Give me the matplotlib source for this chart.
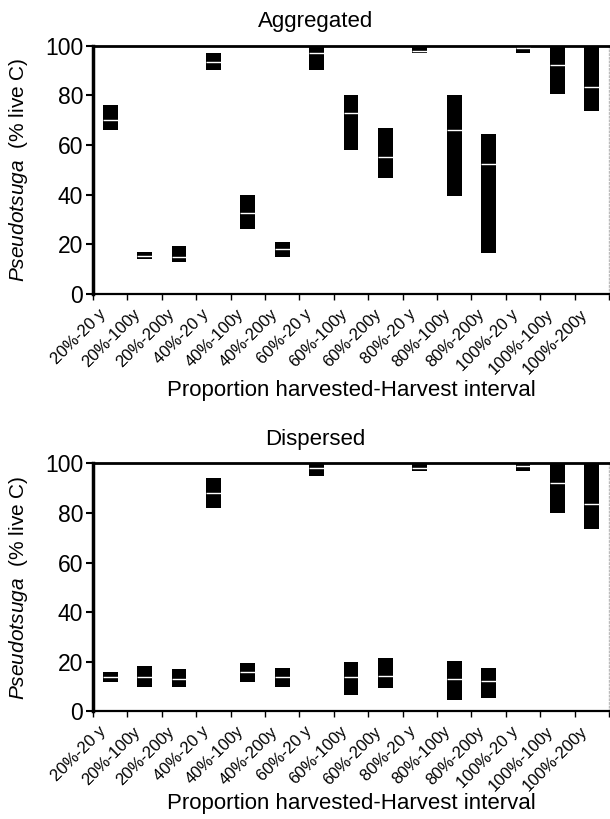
import numpy as np
import matplotlib.pyplot as plt
from matplotlib.transforms import ScaledTranslation

plt.rcParams['font.family'] = ['Liberation Sans', 'DejaVu Sans']
plt.rcParams['mathtext.fontset'] = 'custom'
plt.rcParams['mathtext.it'] = 'Liberation Sans:italic'
plt.rcParams['mathtext.rm'] = 'Liberation Sans'

# treatments: proportion harvested - harvest interval
labels = ['20%-20 y', '20%-100y', '20%-200y',
          '40%-20 y', '40%-100y', '40%-200y',
          '60%-20 y', '60%-100y', '60%-200y',
          '80%-20 y', '80%-100y', '80%-200y',
          '100%-20 y', '100%-100y', '100%-200y']

# Pseudotsuga share of live C: range (low/high) and median
agg_low = [66, 14, 13, 90, 26, 15, 90, 58, 46.5, 97, 39.5, 16.5, 97, 80.5, 73.5]
agg_high = [76, 17, 19.5, 97, 40, 21, 100, 80, 67, 100, 80, 64.5, 100, 100, 100]
agg_med = [70, 15.3, 15, 93.5, 32.7, 18, 97, 73, 55, 98, 66, 52.2, 99, 92, 83.5]

dis_low = [12, 9.7, 9.7, 82, 12, 9.7, 95, 6.5, 9.3, 97, 4.5, 5.2, 97, 80, 73.5]
dis_high = [15.7, 18.3, 17, 94.2, 19.6, 17.3, 100, 20, 21.6, 100, 20.3, 17.6, 100, 100, 100]
dis_med = [14, 14, 13, 88, 15.7, 14, 98, 14, 14.2, 98, 13, 12.3, 99, 92, 83.5]

n = len(labels)
centers = np.arange(n) + 0.5
bw = 0.43

fig = plt.figure(figsize=(6.1, 8.19), dpi=100)
ax1 = fig.add_axes([0.1525, 0.641, 0.846, 0.3034])
ax2 = fig.add_axes([0.1525, 0.1315, 0.846, 0.3028])


def draw_panel(ax, low, high, med, xlab_y):
    low = np.array(low)
    high = np.array(high)
    ax.bar(centers, high - low, bottom=low, width=bw, color='black', zorder=2)
    ax.hlines(med, centers - bw / 2, centers + bw / 2, color='white', lw=1, zorder=3)
    ax.set_xlim(0, n)
    ax.set_ylim(0, 100)
    ax.set_yticks([0, 20, 40, 60, 80, 100])
    ax.tick_params(axis='y', labelsize=16.5, length=5, width=1.5, pad=2)
    # boundary ticks between treatments, labels at the slot centres
    ax.set_xticks(np.arange(n + 1))
    ax.set_xticklabels([])
    ax.tick_params(axis='x', which='major', length=4, width=1, direction='out')
    ax.set_xticks(centers, minor=True)
    ax.set_xticklabels(labels, minor=True, rotation=45, ha='right',
                       rotation_mode='anchor', fontsize=12)
    ax.tick_params(axis='x', which='minor', length=0, pad=9)
    shift = ScaledTranslation(-0.12, 0, fig.dpi_scale_trans)
    for lab in ax.get_xticklabels(minor=True):
        lab.set_transform(lab.get_transform() + shift)
    ax.spines['left'].set_linewidth(2.5)
    ax.spines['top'].set_linewidth(2)
    ax.spines['bottom'].set_linewidth(1.6)
    ax.spines['right'].set_color('#bbbbbb')
    ax.spines['right'].set_linestyle(':')
    ax.spines['right'].set_linewidth(1)
    ax.set_ylabel(r'$Pseudotsuga$  (% live C)', fontsize=15, va='center')
    ax.yaxis.set_label_coords(-0.145, 0.5)
    ax.set_xlabel('Proportion harvested-Harvest interval', fontsize=16, va='center')
    ax.xaxis.set_label_coords(0.5, xlab_y)


draw_panel(ax1, agg_low, agg_high, agg_med, -0.39)
draw_panel(ax2, dis_low, dis_high, dis_med, -0.372)

fig.text(0.518, 1 - 21 / 819, 'Aggregated', ha='center', va='center', fontsize=16)
fig.text(0.516, 1 - 440 / 819, 'Dispersed', ha='center', va='center', fontsize=16)

fig.savefig('out.png', dpi=100)
